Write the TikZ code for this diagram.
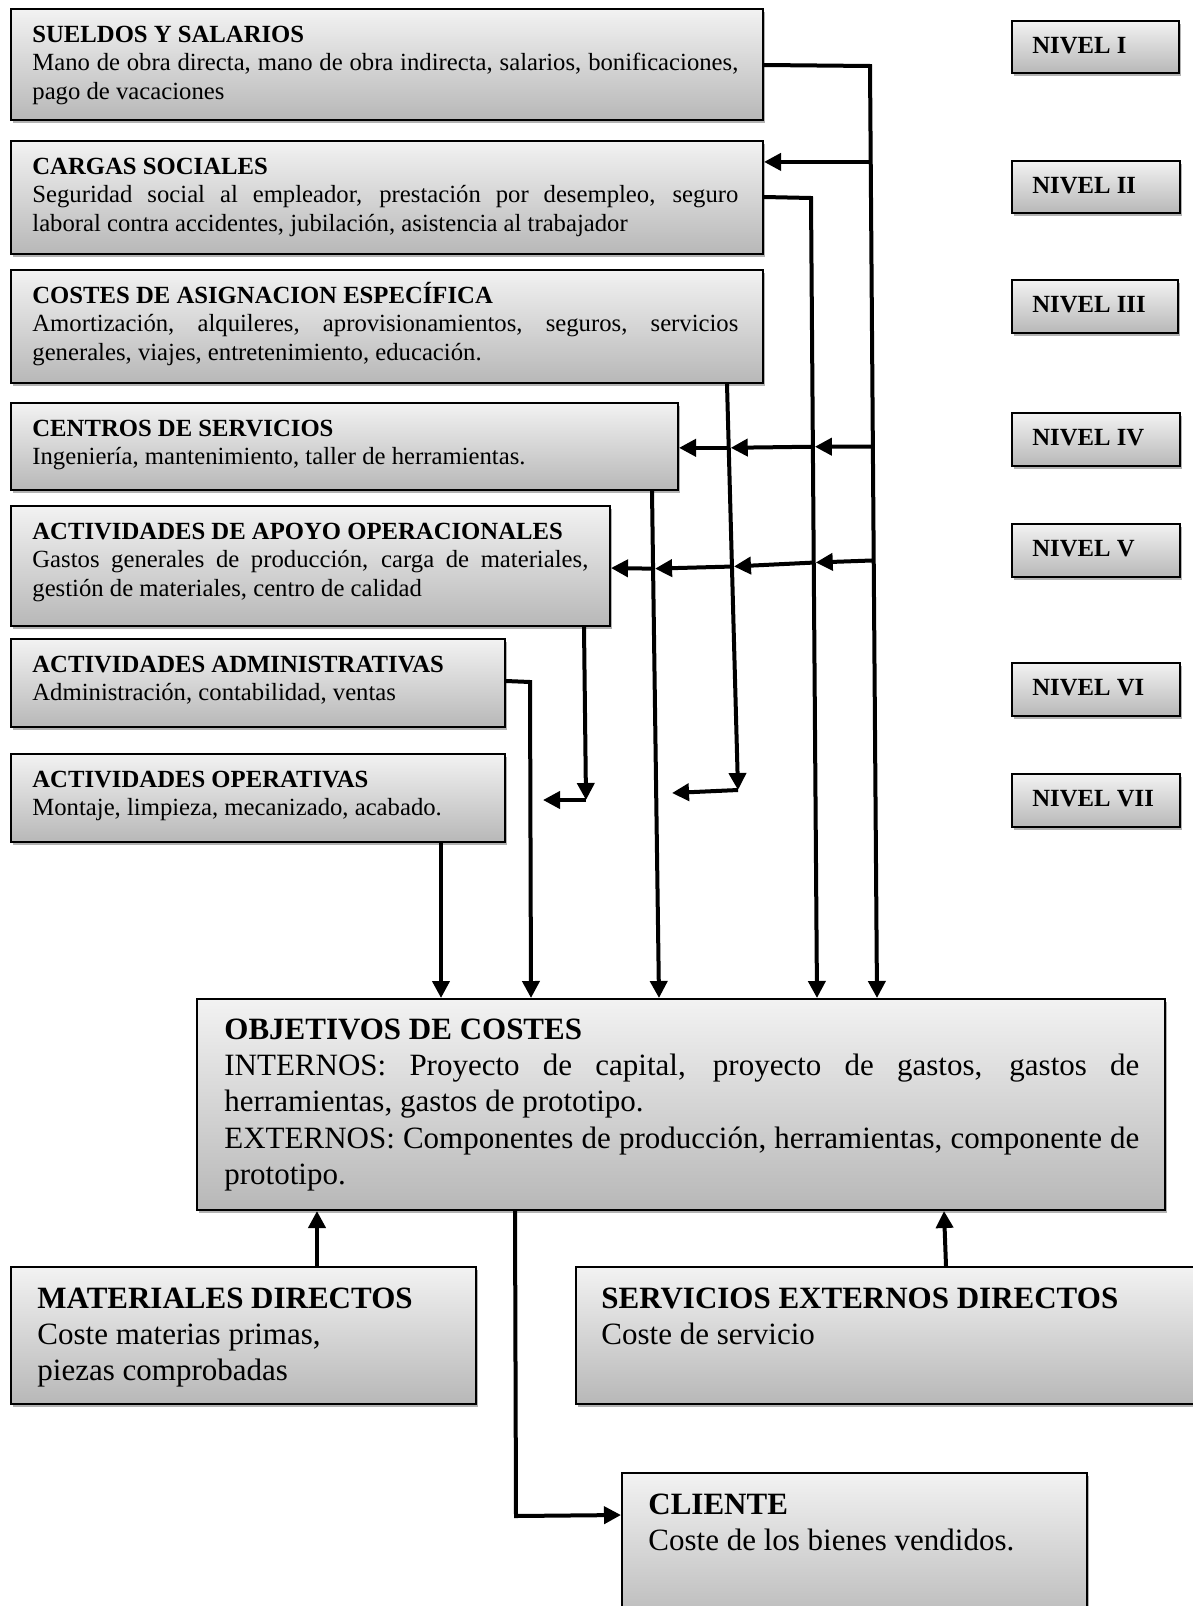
\documentclass[tikz,border=0pt]{standalone}
\usepackage{fontspec}
\setmainfont{Liberation Serif}
\usetikzlibrary{arrows.meta,calc,fit,shadows}
\hyphenpenalty=10000
\exhyphenpenalty=10000
\tolerance=9000

\tikzset{
  box/.style={draw=black, line width=1pt, inner sep=0pt,
    top color=black!5, bottom color=black!28,
    drop shadow={shadow xshift=0.8pt, shadow yshift=-1.6pt, fill=black, opacity=0.3}},
  txt/.style={inner sep=0pt, anchor=base west, align=justify,
    font=\fontsize{12.35pt}{14.25pt}\selectfont},
  bigtxt/.style={inner sep=0pt, anchor=base west, align=justify,
    font=\fontsize{15.5pt}{18.2pt}\selectfont},
  lvltxt/.style={inner sep=0pt, anchor=base west,
    font=\fontsize{12.35pt}{14.25pt}\selectfont\bfseries},
  conn/.style={line width=2pt, -{Triangle[length=8.5pt,width=8.5pt]}},
  wire/.style={line width=2pt},
  cross/.style={conn, shorten >=1pt}
}

\begin{document}
\begin{tikzpicture}[x=0.5pt, y=-0.5pt]
\useasboundingbox (0,0) rectangle (1193,1606);
\clip (0,0) rectangle (1193,1606);

% ---- cost boxes, levels I to VII ----
\node[box, fit={(11,9) (763,120)}] (sueldos) {};
\node[box, fit={(11,141) (763,254)}] (cargas) {};
\node[box, fit={(11,270) (763,383)}] (costes) {};
\node[box, fit={(11,403) (678,490)}] (centros) {};
\node[box, fit={(11,506) (610,626)}] (apoyo) {};
\node[box, fit={(11,639) (505,727)}] (admin) {};
\node[box, fit={(11,754) (505,842)}] (operativas) {};

\node[txt, text width=353pt] (sueldosT) at ($(sueldos.north west)+(22,34)$)
  {\textbf{SUELDOS Y SALARIOS}\\Mano de obra directa, mano de obra indirecta, salarios, bonificaciones,\linebreak pago de vacaciones};
\node[txt, text width=353pt] (cargasT) at ($(cargas.north west)+(22,34)$)
  {\textbf{CARGAS SOCIALES}\\Seguridad social al empleador, prestación por desempleo, seguro\linebreak laboral contra accidentes, jubilación, asistencia al trabajador};
\node[txt, text width=353pt] (costesT) at ($(costes.north west)+(22,34)$)
  {\textbf{COSTES DE ASIGNACION ESPECÍFICA}\\Amortización, alquileres, aprovisionamientos, seguros, servicios\linebreak generales, viajes, entretenimiento, educación.};
\node[txt, text width=315pt] (centrosT) at ($(centros.north west)+(22,34)$)
  {\textbf{CENTROS DE SERVICIOS}\\Ingeniería, mantenimiento, taller de herramientas.};
\node[txt, text width=278pt] (apoyoT) at ($(apoyo.north west)+(22,34)$)
  {\textbf{ACTIVIDADES DE APOYO OPERACIONALES}\\Gastos generales de producción, carga de materiales,\linebreak gestión de materiales, centro de calidad};
\node[txt, text width=225pt] (adminT) at ($(admin.north west)+(22,34)$)
  {\textbf{ACTIVIDADES ADMINISTRATIVAS}\\Administración, contabilidad, ventas};
\node[txt, text width=225pt] (operativasT) at ($(operativas.north west)+(22,34)$)
  {\textbf{ACTIVIDADES OPERATIVAS}\\Montaje, limpieza, mecanizado, acabado.};

% ---- level labels ----
\node[box, fit={(1012,21) (1179,73)}] (n1) {};
\node[box, fit={(1012,161) (1180,213)}] (n2) {};
\node[box, fit={(1012,280) (1178,333)}] (n3) {};
\node[box, fit={(1012,413) (1180,466)}] (n4) {};
\node[box, fit={(1012,524) (1180,577)}] (n5) {};
\node[box, fit={(1012,663) (1180,716)}] (n6) {};
\node[box, fit={(1012,774) (1180,827)}] (n7) {};
\node[lvltxt] (n1T) at ($(n1.north west)+(21,33)$) {NIVEL I};
\node[lvltxt] (n2T) at ($(n2.north west)+(21,33)$) {NIVEL II};
\node[lvltxt] (n3T) at ($(n3.north west)+(21,33)$) {NIVEL III};
\node[lvltxt] (n4T) at ($(n4.north west)+(21,33)$) {NIVEL IV};
\node[lvltxt] (n5T) at ($(n5.north west)+(21,33)$) {NIVEL V};
\node[lvltxt] (n6T) at ($(n6.north west)+(21,33)$) {NIVEL VI};
\node[lvltxt] (n7T) at ($(n7.north west)+(21,33)$) {NIVEL VII};

% ---- cost objects and direct costs ----
\node[box, fit={(197,999) (1165,1210)}] (objetivos) {};
\node[box, fit={(11,1267) (476,1404)}] (materiales) {};
\node[box, fit={(576,1267) (1215,1404)}] (servicios) {};
\node[box, fit={(622,1473) (1087,1630)}] (cliente) {};

\node[bigtxt, text width=457.5pt] (objetivosT) at ($(objetivos.north west)+(28,41)$)
  {\textbf{OBJETIVOS DE COSTES}\\INTERNOS: Proyecto de capital, proyecto de gastos, gastos de\linebreak herramientas, gastos de prototipo.\\EXTERNOS: Componentes de producción, herramientas, componente de\linebreak prototipo.};
\node[bigtxt, text width=210pt] (materialesT) at ($(materiales.north west)+(27,42)$)
  {\textbf{MATERIALES DIRECTOS}\\Coste materias primas,\\piezas comprobadas};
\node[bigtxt, text width=290pt] (serviciosT) at ($(servicios.north west)+(26,42)$)
  {\textbf{SERVICIOS EXTERNOS DIRECTOS}\\Coste de servicio};
\node[bigtxt, text width=215pt] (clienteT) at ($(cliente.north west)+(27,42)$)
  {\textbf{CLIENTE}\\Coste de los bienes vendidos.};

% ---- main feed lines ----
\coordinate (A1) at (870,66);
\coordinate (B1) at ($(objetivos.north west)+(681,0)$);
\coordinate (A2) at (811,198);
\coordinate (B2) at ($(objetivos.north west)+(621,0)$);
\coordinate (A3) at ($(costes.south west)+(717,0)$);
\coordinate (B3) at (738,790);
\coordinate (E3) at (672,793);
\coordinate (A4) at ($(centros.south west)+(642,0)$);
\coordinate (B4) at ($(objetivos.north west)+(463,0)$);
\coordinate (A5) at ($(apoyo.south west)+(574,0)$);
\coordinate (B5) at (586,800);
\coordinate (E5) at (543,800);
\coordinate (A6) at (530,682);

\draw[conn] ($(sueldos.north east)+(0,57)$) -- (A1) -- (B1);
\draw[conn] ($(cargas.north east)+(0,57)$) -- (A2) -- (B2);
\draw[conn] (A3) -- (B3);
\draw[conn] (B3) -- (E3);
\draw[conn] (A4) -- (B4);
\draw[conn] (A5) -- (B5);
\draw[conn] (B5) -- (E5);
\draw[conn] ($(admin.north east)+(0,43)$) -- (A6) -- ($(objetivos.north west)+(335,0)$);
\draw[conn] ($(operativas.south west)+(431,0)$) -- ($(objetivos.north west)+(245,0)$);

% ---- branches towards the lower levels ----
\coordinate (P1c) at ($(A1)!0.1029!(B1)$);
\draw[conn] (P1c) -- (cargas.east |- P1c);

\coordinate (P1d) at ($(A1)!0.4084!(B1)$);
\coordinate (P2d) at ($(A2)!0.3109!(B2)$);
\coordinate (P3d) at ($(A3)!0.1572!(B3)$);
\draw[cross] (P1d) -- (P2d);
\draw[cross] (P2d) -- (P3d);
\draw[conn] (P3d) -- (centros.east |- P3d);

\coordinate (P1e) at ($(A1)!0.5305!(B1)$);
\coordinate (P2e) at ($(A2)!0.4557!(B2)$);
\coordinate (P3e) at ($(A3)!0.4496!(B3)$);
\coordinate (P4e) at ($(A4)!0.1532!(B4)$);
\draw[cross] (P1e) -- (P2e);
\draw[cross] (P2e) -- (P3e);
\draw[cross] (P3e) -- (P4e);
\draw[conn] (P4e) -- ($(apoyo.north east)+(0,63)$);

% ---- direct costs and customer ----
\draw[conn] ($(materiales.north west)+(307,0)$) -- ($(objetivos.south west)+(121,0)$);
\draw[conn] ($(servicios.north west)+(371,0)$) -- ($(objetivos.south west)+(748,0)$);
\coordinate (C1) at (516,1516);
\draw[conn] ($(objetivos.south west)+(319,0)$) -- (C1) -- ($(cliente.north west)+(0,43)$);
\end{tikzpicture}
\end{document}
